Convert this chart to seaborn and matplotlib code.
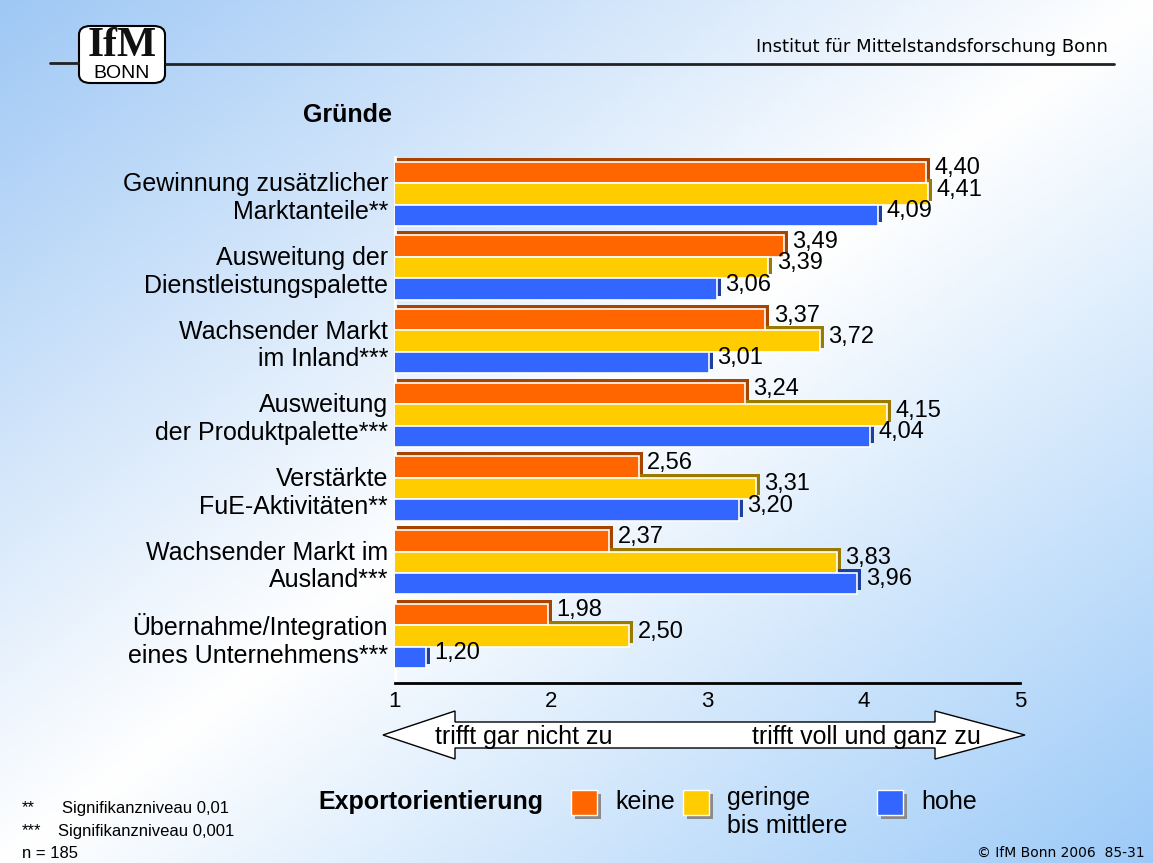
import numpy as np
import pandas as pd
import matplotlib
matplotlib.use("Agg")
import matplotlib.pyplot as plt
import seaborn as sb
from matplotlib.patches import Rectangle, Polygon, FancyBboxPatch

# data
gruende = [
    "Gewinnung zusätzlicher\nMarktanteile**",
    "Ausweitung der\nDienstleistungspalette",
    "Wachsender Markt\nim Inland***",
    "Ausweitung\nder Produktpalette***",
    "Verstärkte\nFuE-Aktivitäten**",
    "Wachsender Markt im\nAusland***",
    "Übernahme/Integration\neines Unternehmens***",
]
gruppen = ["keine", "geringe\nbis mittlere", "hohe"]
keine = [4.40, 3.49, 3.37, 3.24, 2.56, 2.37, 1.98]
geringe = [4.41, 3.39, 3.72, 4.15, 3.31, 3.83, 2.50]
hohe = [4.09, 3.06, 3.01, 4.04, 3.20, 3.96, 1.20]
x_ticks = [1, 2, 3, 4, 5]

farben = ["#FF6600", "#FFCC00", "#3366FF"]
schatten = ["#A84300", "#9A7A00", "#1F3F9F"]

df = pd.DataFrame({
    "grund": gruende * 3,
    "gruppe": [gruppen[0]] * 7 + [gruppen[1]] * 7 + [gruppen[2]] * 7,
    "wert": keine + geringe + hohe,
})

W, H = 1153, 863
sb.set_style("white")
plt.rcParams["font.family"] = ["Liberation Sans", "DejaVu Sans"]
plt.rcParams["text.color"] = "black"
plt.rcParams["xtick.color"] = "black"
plt.rcParams["ytick.color"] = "black"
plt.rcParams["axes.labelcolor"] = "black"

fig = plt.figure(figsize=(W / 100, H / 100), dpi=100)


def px(x, y):
    # pixel position -> figure fraction
    return (x / W, 1 - y / H)


# background gradient
bg = fig.add_axes([0, 0, 1, 1])
yy, xx = np.mgrid[0:H:4, 0:W:4]
t = (xx / W + yy / H) / 2
c1 = np.array([159, 200, 245]) / 255
c2 = np.array([156, 202, 248]) / 255
wh = np.array([1.0, 1.0, 1.0])
f1 = np.clip(t / 0.5, 0, 1)[..., None]
f2 = np.clip((t - 0.5) / 0.5, 0, 1)[..., None]
img = np.where(t[..., None] < 0.5, c1 + (wh - c1) * f1, wh + (c2 - wh) * f2)
bg.imshow(img, extent=[0, 1, 0, 1], aspect="auto", origin="upper")
bg.set_axis_off()

# main chart
left, right, top, bottom = 395, 1020, 157, 683
ax = fig.add_axes([left / W, 1 - bottom / H, (right - left) / W, (bottom - top) / H])
ax.set_facecolor("none")

sb.barplot(data=df, x="wert", y="grund", hue="gruppe", hue_order=gruppen,
           palette=farben, saturation=1, width=0.87, orient="h", errorbar=None,
           edgecolor="white", linewidth=1.2, legend=False, ax=ax, zorder=3)

ax.set_xlim(1, 5)
ax.set_ylim(6.64, -0.5)

# 3d look: dark copy of each bar, shifted up and right
dx = 4 / ((right - left) / 4)
dy = 4 / ((bottom - top) / 7.14)
for cont, sc in zip(ax.containers, schatten):
    for p in cont.patches:
        ax.add_patch(Rectangle((p.get_x() + dx, p.get_y() - dy), p.get_width(),
                               p.get_height(), facecolor=sc, edgecolor="none", zorder=2))

for cont, werte in zip(ax.containers, [keine, geringe, hohe]):
    for p, v in zip(cont.patches, werte):
        ax.annotate(f"{v:.2f}".replace(".", ","), (v, p.get_y() + p.get_height() / 2),
                    xytext=(6, 3), textcoords="offset points", va="center", ha="left",
                    fontsize=17, color="black", zorder=5, annotation_clip=False)

ax.set_xticks(x_ticks)
ax.set_xticklabels([str(v) for v in x_ticks], fontsize=16)
ax.tick_params(axis="x", length=0, pad=6, colors="black")
ax.tick_params(axis="y", length=0, pad=5, labelsize=18, colors="black")
for lab in ax.get_yticklabels():
    lab.set_ha("right")
ax.set_xlabel("")
ax.set_ylabel("")
sb.despine(ax=ax, top=True, right=True)
ax.spines["left"].set_color("white")
ax.spines["left"].set_linewidth(2)
ax.spines["bottom"].set_color("black")
ax.spines["bottom"].set_linewidth(2)

fig.text(*px(347, 115), "Gründe", fontsize=18, fontweight="bold", ha="center", va="center")

# header
fig.add_artist(plt.Line2D([50 / W, 78 / W], [1 - 63 / H] * 2, color="#222222", lw=2))
fig.add_artist(plt.Line2D([166 / W, 1114 / W], [1 - 64 / H] * 2, color="#222222", lw=2))
logo = FancyBboxPatch(px(79, 83), 86 / W, 57 / H, boxstyle="round,pad=0,rounding_size=0.01",
                      transform=fig.transFigure, facecolor="white", edgecolor="black", lw=1.5)
fig.add_artist(logo)
fig.text(*px(122, 46), "IfM", family=["Liberation Serif"], fontsize=30, fontweight="bold",
         ha="center", va="center", color="#111111")
fig.text(*px(122, 73), "BONN", family=["Liberation Sans"], fontsize=14,
         ha="center", va="center")
fig.text(*px(1108, 47), "Institut für Mittelstandsforschung Bonn", family=["DejaVu Sans"],
         fontsize=13, ha="right", va="center")

# arrow below the axis
pts = [(383, 735), (455, 711), (455, 722), (935, 722), (935, 711), (1025, 735),
       (935, 759), (935, 748), (455, 748), (455, 759)]
fig.add_artist(Polygon([px(x, y) for x, y in pts], closed=True, transform=fig.transFigure,
                       facecolor="white", edgecolor="black", lw=1))
fig.text(*px(435, 737), "trifft gar nicht zu", fontsize=18, ha="left", va="center")
fig.text(*px(752, 737), "trifft voll und ganz zu", fontsize=18, ha="left", va="center")

# legend
fig.text(*px(318, 802), "Exportorientierung", fontsize=18, fontweight="bold", ha="left", va="center")
for x0, col, name, ty in [(571, farben[0], gruppen[0], 802), (683, farben[1], gruppen[1], 812),
                          (877, farben[2], gruppen[2], 802)]:
    fig.add_artist(Rectangle(px(x0 + 4, 819), 26 / W, 25 / H, transform=fig.transFigure,
                             facecolor="#8a8a8a", edgecolor="none"))
    fig.add_artist(Rectangle(px(x0, 815), 26 / W, 25 / H, transform=fig.transFigure,
                             facecolor=col, edgecolor="white", lw=1))
    fig.text(*px(x0 + 44, ty), name, fontsize=18, ha="left", va="center", linespacing=1.25)

# footnotes
fig.text(*px(22, 808), "**", fontsize=12, ha="left", va="center")
fig.text(*px(62, 808), "Signifikanzniveau 0,01", fontsize=12, ha="left", va="center")
fig.text(*px(22, 831), "***", fontsize=12, ha="left", va="center")
fig.text(*px(58, 831), "Signifikanzniveau 0,001", fontsize=12, ha="left", va="center")
fig.text(*px(22, 853), "n = 185", fontsize=12, ha="left", va="center")
fig.text(*px(1145, 853), "© IfM Bonn 2006  85-31", family=["DejaVu Sans"], fontsize=10,
         ha="right", va="center")

fig.savefig("out.png", dpi=100)
